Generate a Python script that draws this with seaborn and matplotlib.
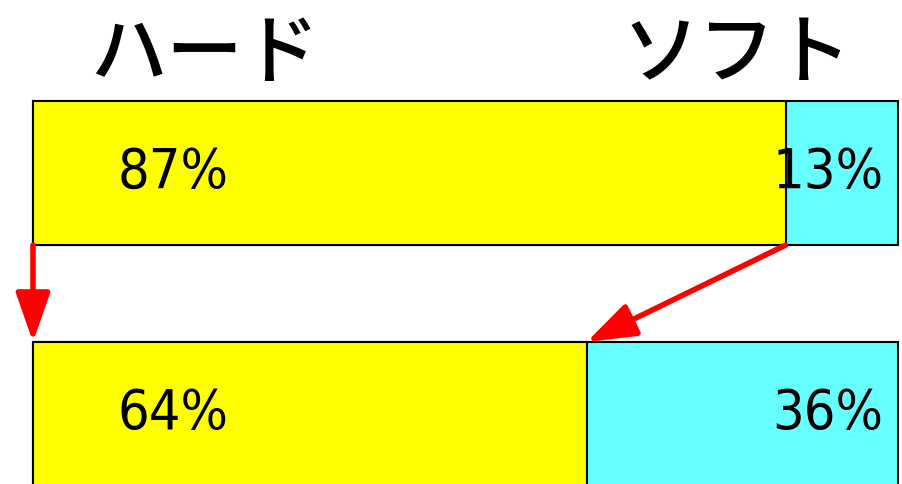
"""hard vs soft share, before and after"""

import seaborn as sns
import matplotlib.pyplot as plt
from matplotlib import font_manager
import pandas as pd

# data
rows = ["before", "after"]
hard = [87, 64]
soft = [13, 36]
headers = ["ハード", "ソフト"]

df = pd.DataFrame({"row": rows, "hard": hard, "soft": soft})
df["total"] = df["hard"] + df["soft"]

sns.set_theme(style="white")
plt.rcParams["font.family"] = ["Noto Sans CJK JP", "DejaVu Sans"]

names = {f.name for f in font_manager.fontManager.ttflist}
print(sorted(n for n in names if "Cond" in n or "Narrow" in n))

fig = plt.figure(figsize=(9.03, 4.84), dpi=100)
ax = fig.add_axes([33 / 903, 0, 865 / 903, 383 / 484])

# cyan = full bar, yellow drawn on top for the hard part
sns.barplot(data=df, x="total", y="row", orient="h", color="#66FFFF",
            saturation=1, width=0.6, edgecolor="black", linewidth=1.5, ax=ax)
sns.barplot(data=df, x="hard", y="row", orient="h", color="#FFFF00",
            saturation=1, width=0.6, edgecolor="black", linewidth=1.5, ax=ax)
for p in ax.patches:
    p.set_clip_on(False)

ax.set_xlim(0, 100)
ax.set_ylim(1.29, -0.299)
ax.axis("off")

pct_font = dict(family=["DejaVu Sans"], fontstretch="condensed",
                fontsize=40, color="black", va="center")
for i in range(len(rows)):
    ax.text(9.8, i, f"{hard[i]}%", ha="left", **pct_font)
    ax.text(98.3, i, f"{soft[i]}%", ha="right", **pct_font)

# arrows from top bar to bottom bar
arrow = dict(arrowstyle="-|>,head_width=0.35,head_length=1.0", color="red",
             lw=4, mutation_scale=30, shrinkA=0, shrinkB=0)
ax.annotate("", xy=(0, 0.701), xytext=(0, 0.299), arrowprops=arrow)
ax.annotate("", xy=(hard[1], 0.701), xytext=(hard[0], 0.299), arrowprops=arrow)

fig.text(90 / 903, 1 - 55 / 484, headers[0], ha="left", va="center",
         fontsize=55, fontweight="medium", color="black")
fig.text(852 / 903, 1 - 55 / 484, headers[1], ha="right", va="center",
         fontsize=55, fontweight="medium", color="black")

fig.savefig("out.png", dpi=100)
